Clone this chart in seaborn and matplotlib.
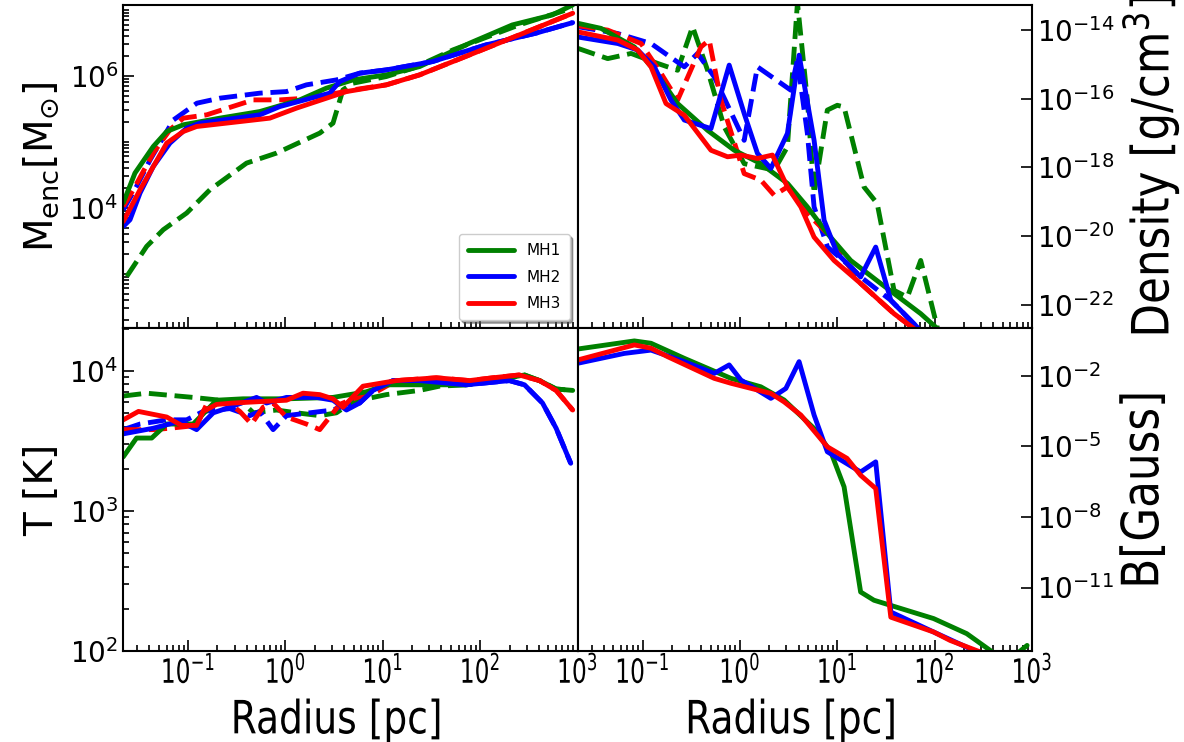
import numpy as np
import matplotlib
matplotlib.use("Agg")
import matplotlib.pyplot as plt
import seaborn as sns
from matplotlib import patheffects
from matplotlib.transforms import Affine2D, Bbox
from matplotlib.ticker import LogLocator, NullLocator, NullFormatter, FixedLocator

sns.set_style("white")
plt.rcParams['font.family'] = ['DejaVu Sans']
plt.rcParams['mathtext.default'] = 'regular'
plt.rcParams['axes.edgecolor'] = 'black'
plt.rcParams['axes.linewidth'] = 1.5
for key in ('text.color', 'axes.labelcolor', 'xtick.color', 'ytick.color'):
    plt.rcParams[key] = 'black'

colors = {'MH1': 'green', 'MH2': 'blue', 'MH3': 'red'}

# all values are log10
# --- enclosed mass [Msun] ---
menc_mh1_x = [-1.666, -1.546, -1.358, -1.22, -1.05, -0.674, -0.264, 0.147, 0.42, 0.693, 1.036, 1.377, 1.89, 2.33, 2.74, 2.95]
menc_mh1_y = [4.076, 4.526, 4.929, 5.156, 5.258, 5.359, 5.459, 5.636, 5.814, 5.939, 6.015, 6.141, 6.495, 6.773, 6.924, 7.076]
menc_mh1d_x = [-1.63, -1.426, -1.255, -1.015, -0.776, -0.40, -0.092, 0.352, 0.488, 0.59, 0.693, 1.036, 1.31, 1.72, 2.40, 2.95]
menc_mh1d_y = [2.959, 3.414, 3.667, 3.920, 4.273, 4.677, 4.829, 5.132, 5.283, 5.788, 5.889, 5.99, 6.117, 6.394, 6.773, 7.03]
menc_mh2_x = [-1.666, -1.597, -1.494, -1.358, -1.187, -1.015, -0.879, -0.264, -0.058, 0.454, 0.557, 0.762, 1.036, 1.51, 2.06, 2.57, 2.95]
menc_mh2_y = [3.717, 3.818, 4.223, 4.626, 4.980, 5.208, 5.283, 5.409, 5.535, 5.738, 5.914, 6.041, 6.091, 6.217, 6.470, 6.647, 6.808]
menc_mh2d_x = [-1.666, -1.53, -1.39, -1.15, -0.91, -0.674, -0.264, 0.01, 0.215, 0.523, 0.762, 1.036, 1.51, 2.06, 2.57, 2.95]
menc_mh2d_y = [3.970, 4.323, 4.727, 5.333, 5.586, 5.662, 5.738, 5.762, 5.864, 5.939, 6.041, 6.091, 6.217, 6.470, 6.647, 6.808]
menc_mh3_x = [-1.666, -1.494, -1.22, -1.05, -0.913, -0.161, 0.113, 0.626, 1.036, 1.377, 1.89, 2.40, 2.95]
menc_mh3_y = [3.792, 4.273, 4.980, 5.156, 5.232, 5.359, 5.511, 5.762, 5.864, 6.015, 6.318, 6.621, 6.95]
menc_mh3d_x = [-1.666, -1.563, -1.358, -1.187, -1.05, -0.81, -0.33, -0.058, 0.215, 0.523, 0.693, 1.036, 1.377, 1.89, 2.40, 2.95]
menc_mh3d_y = [4.020, 4.273, 4.829, 5.182, 5.359, 5.409, 5.636, 5.636, 5.662, 5.738, 5.788, 5.864, 6.015, 6.318, 6.621, 6.95]

# --- density [g/cm^3] ---
rho_mh1_x = [-1.666, -1.426, -1.084, -0.879, -0.64, -0.332, -0.058, 0.215, 0.49, 0.693, 0.90, 1.138, 1.446, 1.857, 2.03, 2.2]
rho_mh1_y = [-13.80, -13.95, -14.49, -15.17, -16.14, -16.92, -17.50, -17.89, -18.47, -19.15, -19.93, -20.71, -21.38, -22.26, -22.70, -23.2]
rho_mh1d_x = [-1.666, -1.358, -1.118, -0.845, -0.64, -0.486, -0.332, -0.161, 0.044, 0.352, 0.488, 0.591, 0.693, 0.762, 0.898, 1.0, 1.07, 1.275, 1.41, 1.583, 1.72, 1.857, 2.03, 2.1]
rho_mh1d_y = [-14.53, -14.83, -14.68, -14.97, -15.17, -13.90, -15.17, -16.82, -17.89, -18.08, -17.40, -13.2, -16.04, -18.76, -16.33, -16.19, -16.24, -18.57, -19.05, -21.58, -21.78, -20.71, -22.69, -23.2]
rho_mh2_x = [-1.666, -1.255, -1.05, -0.879, -0.708, -0.571, -0.297, -0.11, 0.044, 0.18, 0.318, 0.488, 0.608, 0.762, 0.865, 1.0, 1.24, 1.395, 1.55, 1.82, 1.95]
rho_mh2_y = [-14.20, -14.39, -14.58, -15.07, -16.04, -16.62, -16.87, -15.02, -16.43, -17.59, -18.03, -17.01, -14.73, -17.21, -19.54, -20.51, -21.19, -20.32, -21.87, -22.65, -23.1]
rho_mh2d_x = [-1.666, -1.255, -0.913, -0.571, -0.435, -0.264, 0.044, 0.18, 0.523, 0.59, 0.693, 0.762, 0.90, 1.14, 1.24, 1.55, 1.82, 1.95]
rho_mh2d_y = [-13.90, -14.10, -14.39, -15.07, -14.68, -15.36, -17.21, -15.07, -15.75, -14.87, -17.01, -19.15, -20.32, -20.90, -21.19, -21.87, -22.65, -23.1]
rho_mh3_x = [-1.666, -1.255, -1.05, -0.913, -0.759, -0.571, -0.297, -0.127, 0.01, 0.18, 0.334, 0.488, 0.626, 0.762, 0.967, 1.24, 1.583, 1.79, 1.9]
rho_mh3_y = [-14.05, -14.29, -14.58, -15.07, -16.14, -16.48, -17.50, -17.69, -17.64, -17.74, -17.64, -18.57, -19.15, -20.03, -20.71, -21.38, -22.26, -22.70, -23.1]
rho_mh3d_x = [-1.666, -1.358, -1.015, -0.81, -0.64, -0.40, -0.315, -0.195, 0.044, 0.215, 0.352, 0.488, 0.693, 0.90, 1.10, 1.24, 1.583, 1.79, 1.9]
rho_mh3d_y = [-13.87, -14.0, -14.39, -15.26, -16.04, -14.49, -14.29, -16.04, -18.18, -18.37, -18.81, -18.57, -19.34, -19.93, -20.80, -21.38, -22.26, -22.70, -23.1]

# --- temperature [K] ---
temp_mh1_x = [-1.666, -1.53, -1.374, -1.22, -0.948, -0.708, -0.435, 0.01, 0.488, 0.83, 1.036, 1.58, 1.86, 2.455, 2.61, 2.78, 2.95]
temp_mh1_y = [3.386, 3.52, 3.52, 3.62, 3.62, 3.79, 3.80, 3.80, 3.81, 3.85, 3.90, 3.90, 3.90, 3.97, 3.93, 3.87, 3.86]
temp_mh1d_x = [-1.666, -1.426, -0.948, -0.674, -0.435, -0.33, -0.092, 0.113, 0.352, 0.523, 0.693, 1.036, 1.378, 1.58, 1.86, 2.455, 2.61, 2.78, 2.95]
temp_mh1d_y = [3.82, 3.84, 3.81, 3.79, 3.77, 3.70, 3.72, 3.70, 3.68, 3.70, 3.78, 3.83, 3.86, 3.89, 3.90, 3.97, 3.93, 3.87, 3.86]
temp_mh2_x = [-1.666, -1.358, -1.084, -0.913, -0.742, -0.571, -0.297, -0.195, 0.01, 0.318, 0.488, 0.626, 0.762, 0.899, 1.104, 1.378, 1.856, 2.30, 2.455, 2.64, 2.78, 2.93]
temp_mh2_y = [3.55, 3.59, 3.64, 3.58, 3.70, 3.74, 3.81, 3.77, 3.81, 3.81, 3.79, 3.72, 3.77, 3.86, 3.93, 3.93, 3.90, 3.93, 3.90, 3.77, 3.59, 3.34]
temp_mh2d_x = [-1.666, -1.494, -1.22, -1.015, -0.845, -0.571, -0.366, -0.264, -0.127, 0.01, 0.488, 0.626, 0.762, 0.899, 1.104, 1.378, 1.856, 2.30, 2.455, 2.64, 2.78, 2.93]
temp_mh2d_y = [3.58, 3.62, 3.65, 3.65, 3.71, 3.73, 3.68, 3.71, 3.58, 3.68, 3.72, 3.76, 3.77, 3.86, 3.93, 3.93, 3.90, 3.93, 3.90, 3.77, 3.59, 3.34]
temp_mh3_x = [-1.666, -1.51, -1.22, -1.067, -0.913, -0.845, -0.708, -0.537, 0.01, 0.18, 0.352, 0.488, 0.59, 0.796, 0.967, 1.138, 1.549, 1.89, 2.13, 2.40, 2.61, 2.78, 2.95]
temp_mh3_y = [3.65, 3.71, 3.67, 3.61, 3.61, 3.71, 3.76, 3.77, 3.79, 3.84, 3.83, 3.80, 3.74, 3.89, 3.91, 3.93, 3.95, 3.93, 3.95, 3.97, 3.93, 3.86, 3.72]
temp_mh3d_x = [-1.666, -1.358, -1.187, -0.913, -0.81, -0.605, -0.469, -0.349, -0.23, -0.127, 0.01, 0.215, 0.352, 0.557, 0.693, 0.933, 1.138, 1.549, 1.89, 2.13, 2.40, 2.61, 2.78, 2.95]
temp_mh3d_y = [3.58, 3.58, 3.59, 3.61, 3.76, 3.78, 3.71, 3.62, 3.74, 3.77, 3.67, 3.62, 3.58, 3.76, 3.80, 3.85, 3.93, 3.95, 3.93, 3.95, 3.97, 3.93, 3.86, 3.72]

# --- magnetic field [Gauss] ---
bfield_mh1_x = [-1.666, -1.084, -0.913, -0.571, -0.092, 0.215, 0.454, 0.762, 0.933, 1.07, 1.24, 1.377, 1.99, 2.33, 2.57, 2.74, 2.95]
bfield_mh1_y = [-0.864, -0.52, -0.62, -1.26, -2.11, -2.47, -3.03, -4.24, -5.23, -6.72, -11.19, -11.54, -12.32, -12.96, -13.67, -14.17, -13.46]
bfield_mh2_x = [-1.666, -1.187, -0.913, -0.571, -0.264, -0.11, 0.01, 0.318, 0.472, 0.608, 0.762, 0.898, 1.24, 1.395, 1.55, 1.99, 2.40, 2.6]
bfield_mh2_y = [-1.47, -1.05, -0.91, -1.40, -1.90, -1.54, -2.18, -2.96, -2.54, -1.40, -3.67, -5.23, -6.09, -5.66, -12.04, -12.89, -13.67, -14.2]
bfield_mh3_x = [-1.666, -1.084, -0.913, -0.742, -0.264, -0.092, 0.318, 0.454, 0.626, 0.898, 1.10, 1.24, 1.395, 1.55, 1.99, 2.16, 2.47, 2.6]
bfield_mh3_y = [-1.33, -0.69, -0.83, -1.19, -2.11, -2.32, -2.75, -3.11, -3.67, -5.02, -5.51, -6.23, -6.79, -12.26, -12.89, -13.25, -13.74, -14.2]


class Condense(patheffects.AbstractPathEffect):
    """squeeze glyphs along the text direction (narrow font look)"""

    def __init__(self, sx):
        super().__init__()
        self.sx = sx

    def draw_path(self, renderer, gc, tpath, affine, rgbFace=None):
        v = tpath.vertices
        cx = 0.5 * (v[:, 0].min() + v[:, 0].max()) if len(v) else 0.0
        squeeze = Affine2D().translate(-cx, 0).scale(self.sx, 1).translate(cx, 0)
        renderer.draw_path(gc, tpath, squeeze + affine, rgbFace)


def condense(text, sx, vertical=False):
    # narrow look plus a matching extent, so layout sees what is drawn
    text.set_path_effects([Condense(sx)])
    full_extent = text.get_window_extent

    def extent(renderer=None, dpi=None):
        bb = full_extent(renderer, dpi)
        if vertical:
            c, h = 0.5 * (bb.y0 + bb.y1), 0.5 * bb.height * sx
            return Bbox([[bb.x0, c - h], [bb.x1, c + h]])
        c, w = 0.5 * (bb.x0 + bb.x1), 0.5 * bb.width * sx
        return Bbox([[c - w, bb.y0], [c + w, bb.y1]])

    text.get_window_extent = extent


def draw(ax, lx, ly, color, ls='-'):
    sns.lineplot(x=np.power(10.0, lx), y=np.power(10.0, ly), ax=ax, color=color,
                 linestyle=ls, lw=3.5, estimator=None, sort=False, legend=False)


fig, axes = plt.subplots(2, 2, figsize=(11.84, 7.42), dpi=100, sharex=True)
fig.subplots_adjust(left=0.104, right=0.8716, top=0.9933, bottom=0.1226, wspace=0, hspace=0)
ax_m, ax_r = axes[0]
ax_t, ax_b = axes[1]

# dashed first, solid on top
draw(ax_m, menc_mh1d_x, menc_mh1d_y, colors['MH1'], '--')
draw(ax_m, menc_mh2d_x, menc_mh2d_y, colors['MH2'], '--')
draw(ax_m, menc_mh3d_x, menc_mh3d_y, colors['MH3'], '--')
draw(ax_m, menc_mh1_x, menc_mh1_y, colors['MH1'])
draw(ax_m, menc_mh2_x, menc_mh2_y, colors['MH2'])
draw(ax_m, menc_mh3_x, menc_mh3_y, colors['MH3'])

draw(ax_r, rho_mh1d_x, rho_mh1d_y, colors['MH1'], '--')
draw(ax_r, rho_mh2d_x, rho_mh2d_y, colors['MH2'], '--')
draw(ax_r, rho_mh3d_x, rho_mh3d_y, colors['MH3'], '--')
draw(ax_r, rho_mh1_x, rho_mh1_y, colors['MH1'])
draw(ax_r, rho_mh2_x, rho_mh2_y, colors['MH2'])
draw(ax_r, rho_mh3_x, rho_mh3_y, colors['MH3'])

draw(ax_t, temp_mh1d_x, temp_mh1d_y, colors['MH1'], '--')
draw(ax_t, temp_mh2d_x, temp_mh2d_y, colors['MH2'], '--')
draw(ax_t, temp_mh3d_x, temp_mh3d_y, colors['MH3'], '--')
draw(ax_t, temp_mh1_x, temp_mh1_y, colors['MH1'])
draw(ax_t, temp_mh2_x, temp_mh2_y, colors['MH2'])
draw(ax_t, temp_mh3_x, temp_mh3_y, colors['MH3'])

draw(ax_b, bfield_mh1_x, bfield_mh1_y, colors['MH1'])
draw(ax_b, bfield_mh2_x, bfield_mh2_y, colors['MH2'])
draw(ax_b, bfield_mh3_x, bfield_mh3_y, colors['MH3'])

for ax in axes.flat:
    ax.set_xscale('log')
    ax.set_yscale('log')
    ax.set_xlim(0.0215, 1000)
    ax.xaxis.set_major_locator(LogLocator(base=10, numticks=20))
    ax.xaxis.set_minor_locator(LogLocator(base=10, subs=np.arange(2, 10), numticks=20))
    ax.xaxis.set_minor_formatter(NullFormatter())
    ax.tick_params(which='both', direction='in', bottom=True, top=False, width=1.2)
    ax.tick_params(which='major', length=8)
    ax.tick_params(which='minor', length=4)

ax_m.set_ylim(150, 1.19e7)
ax_m.yaxis.set_major_locator(FixedLocator([1e4, 1e6]))
ax_m.yaxis.set_minor_locator(LogLocator(base=10, subs=np.arange(1, 10), numticks=30))
ax_m.yaxis.set_minor_formatter(NullFormatter())

ax_t.set_ylim(100, 2.02e4)
ax_t.yaxis.set_major_locator(FixedLocator([1e2, 1e3, 1e4]))
ax_t.yaxis.set_minor_locator(LogLocator(base=10, subs=np.arange(2, 10), numticks=30))
ax_t.yaxis.set_minor_formatter(NullFormatter())

ax_r.set_ylim(2.1e-23, 5.4e-14)
ax_r.yaxis.set_major_locator(FixedLocator([1e-22, 1e-20, 1e-18, 1e-16, 1e-14]))
ax_b.set_ylim(2.0e-14, 1.07)
ax_b.yaxis.set_major_locator(FixedLocator([1e-11, 1e-8, 1e-5, 1e-2]))

for ax in (ax_m, ax_t):
    ax.tick_params(axis='y', which='both', left=True, right=False, labelsize=20)
for ax in (ax_r, ax_b):
    ax.yaxis.tick_right()
    ax.yaxis.set_label_position('right')
    ax.yaxis.set_minor_locator(NullLocator())
    ax.tick_params(axis='y', which='both', direction='in', right=True, left=False,
                   labelsize=20, length=8, width=1.2)

for ax in (ax_t, ax_b):
    ax.tick_params(axis='x', which='major', labelsize=24, pad=3)
    ax.set_xlabel('Radius [pc]', fontsize=33, labelpad=6)
    ax.xaxis.label.set_x(0.471)
    condense(ax.xaxis.label, 0.82)

ax_m.set_ylabel(r'$M_{enc}[M_{\odot}]$', fontsize=28, labelpad=6)
ax_t.set_ylabel('T [K]', fontsize=28, labelpad=6)
ax_r.set_ylabel(r'Density [g/cm$^{3}$]', fontsize=37, labelpad=4)
ax_b.set_ylabel('B[Gauss]', fontsize=37, labelpad=4)
condense(ax_r.yaxis.label, 0.85, vertical=True)
condense(ax_b.yaxis.label, 0.85, vertical=True)

handles = [plt.Line2D([], [], color=colors[k], lw=3.5) for k in colors]
ax_m.legend(handles, list(colors), loc='lower right', fontsize=11, shadow=True,
            fancybox=True, framealpha=1, edgecolor='0.8', handlelength=3.0,
            borderpad=0.6, labelspacing=0.75)

# narrow radius tick labels, set once the tick objects exist
fig.canvas.draw()
for ax in (ax_t, ax_b):
    for tick in ax.xaxis.get_major_ticks():
        condense(tick.label1, 0.7)

fig.savefig('out.png', dpi=100)
